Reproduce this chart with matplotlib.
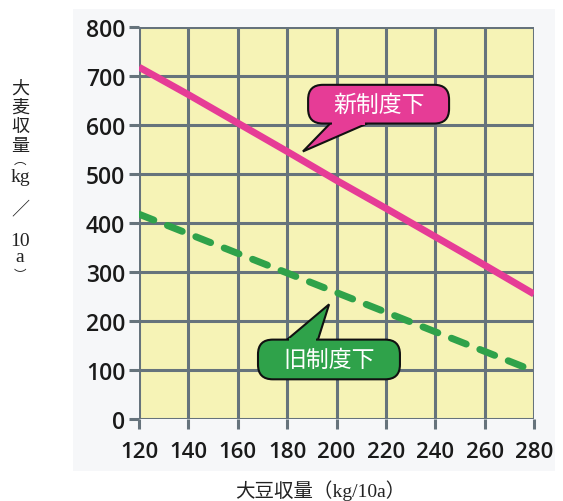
import numpy as np
import matplotlib.pyplot as plt
from matplotlib.patches import FancyBboxPatch, Polygon, Rectangle

# soybean yield (kg/10a) and barley yield (kg/10a)
soy = [120, 140, 160, 180, 200, 220, 240, 260, 280]
barley_new = [718, 662, 604, 546, 487, 430, 372, 314, 255]
barley_old = [418, 378, 338, 298, 258, 218, 178, 138, 98]

xticks = list(range(120, 281, 20))
yticks = list(range(0, 801, 100))

label_new = "新制度下"
label_old = "旧制度下"

pink = "#e63c96"
green = "#2fa24a"
grid_c = "#66737c"
yellow = "#f6f3b6"

cjk = ["Noto Sans CJK JP", "DejaVu Sans"]
serif = ["Liberation Serif", "Noto Sans CJK JP"]

fig = plt.figure(figsize=(5.63, 5.02), dpi=100)
fig.patch.set_facecolor("white")
# pale panel behind the chart
panel = Rectangle((73 / 563, 1 - 472 / 502), 482 / 563, 462 / 502,
                  transform=fig.transFigure, facecolor="#f6f7f9",
                  edgecolor="none", zorder=-10)
fig.patches.append(panel)

ax = fig.add_axes([139 / 563, 82 / 502, 395 / 563, 392 / 502])
ax.set_facecolor(yellow)
ax.set_xlim(120, 280)
ax.set_ylim(0, 800)
ax.set_xticks(xticks)
ax.set_yticks(yticks)
ax.grid(True, color=grid_c, lw=2.2)
ax.set_axisbelow(True)
for s in ax.spines.values():
    s.set_visible(False)
ax.tick_params(length=7, width=2.2, color=grid_c)
ax.tick_params(axis="x", pad=9)
ax.tick_params(axis="y", pad=3)
for lab in ax.get_xticklabels() + ax.get_yticklabels():
    lab.set_family("Open Sans")
    lab.set_fontweight("semibold")
    lab.set_fontsize(16.5)
    lab.set_color("#1a1a1a")
for lab in ax.get_xticklabels():
    lab.set_fontsize(16)

ax.plot(soy, barley_new, color=pink, lw=5, solid_capstyle="butt", zorder=3)
ax.plot(soy, barley_old, color=green, lw=5, ls=(0, (2.3, 2.1)),
        dash_capstyle="round", zorder=3)


def callout(x0, x1, y0, y1, tip, base, color, text):
    box = FancyBboxPatch((x0, y0), x1 - x0, y1 - y0,
                         boxstyle="round,pad=0,rounding_size=6",
                         mutation_aspect=5, facecolor=color,
                         edgecolor="#111111", lw=1.5, zorder=6)
    ptr = Polygon([base[0], tip, base[1]], closed=False, facecolor=color,
                  edgecolor="#111111", lw=1.5, zorder=5)
    ax.add_patch(ptr)
    ax.add_patch(box)
    # hide the box outline where the pointer joins it
    by = base[0][1]
    dy = 6 if by > tip[1] else -6
    cover = Polygon([(base[0][0] + 0.8, by + dy), (base[0][0] + 0.8, by - dy * 0.4),
                     (base[1][0] - 0.8, by - dy * 0.4), (base[1][0] - 0.8, by + dy)],
                    facecolor=color, edgecolor="none", zorder=7)
    ax.add_patch(cover)
    ax.text((x0 + x1) / 2, (y0 + y1) / 2, text, color="white", fontsize=16.5,
            family=cjk, ha="center", va="center", zorder=8)


callout(188.5, 245.6, 603, 682, (186.4, 546), [(197.4, 603), (212.4, 603)],
        pink, label_new)
callout(168.2, 225.7, 81, 162, (197.0, 234), [(180.0, 162), (192.5, 162)],
        green, label_old)

# vertical y-axis label
ylab = ["大", "麦", "収", "量", "︵", "kg", "／", "10", "a", "︶"]
ypos = [89, 108, 127, 146, 160, 178, 209, 241, 258, 276]
sizes = [13, 13, 13, 13, 9, 14, 13, 14, 14, 9]
for t, yp, fs in zip(ylab, ypos, sizes):
    fam = serif if t in ("kg", "10", "a") else cjk
    fig.text(20 / 563, 1 - yp / 502, t, fontsize=fs, family=fam,
             ha="center", va="center", color="#222222")

fig.text(320 / 563, 1 - 491 / 502, "大豆収量（kg/10a）", fontsize=14,
         family=serif, ha="center", va="center", color="#222222")

fig.savefig("out.png", dpi=100)
